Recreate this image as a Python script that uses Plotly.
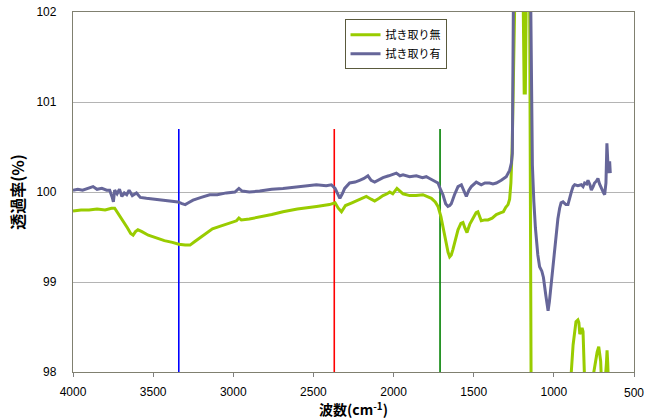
import plotly.graph_objects as go

# 拭き取り無 (without wiping)
wn_green = [4000, 3950, 3900, 3850, 3800, 3760, 3740, 3725, 3700, 3680, 3660, 3640, 3625, 3610, 3595,
            3570, 3530, 3480, 3430, 3380, 3340, 3300, 3270, 3240, 3210, 3170, 3130, 3080, 3030, 2980,
            2965, 2950, 2900, 2835, 2760, 2690, 2600, 2480, 2400, 2365, 2345, 2325, 2300, 2260, 2232,
            2200, 2170, 2140, 2118, 2090, 2066, 2040, 2024, 2005, 1990, 1979, 1960, 1941, 1900, 1860,
            1817, 1790, 1764, 1740, 1723, 1705, 1692, 1675, 1660, 1650, 1640, 1630, 1615, 1598, 1580,
            1567, 1555, 1542, 1525, 1505, 1485, 1474, 1462, 1453, 1430, 1411, 1385, 1359, 1330, 1315,
            1300, 1286, 1276, 1268, 1260, 1255, 1250, 1245, 1230, 1200, 1190, 1185, 1178, 1172, 1165,
            1155, 1138, 900, 895, 880, 862, 850, 844, 838, 832, 824, 818, 812, 808, 760, 752, 740, 730,
            720, 714, 708, 703, 680, 672, 668, 664, 660]
t_green = [99.79, 99.80, 99.80, 99.81, 99.80, 99.82, 99.82, 99.78, 99.72, 99.66, 99.60, 99.54, 99.52, 99.56, 99.58,
           99.56, 99.52, 99.49, 99.46, 99.44, 99.42, 99.41, 99.41, 99.45, 99.49, 99.54, 99.59, 99.62, 99.65, 99.68,
           99.71, 99.69, 99.70, 99.72, 99.75, 99.78, 99.81, 99.84, 99.86, 99.88, 99.82, 99.78, 99.85, 99.88, 99.90,
           99.92, 99.95, 99.92, 99.90, 99.93, 99.96, 99.98, 100.00, 99.98, 100.02, 100.04, 100.01, 99.98, 99.96, 99.96,
           99.97, 99.95, 99.93, 99.89, 99.84, 99.73, 99.62, 99.45, 99.33, 99.28, 99.30, 99.36, 99.48, 99.58, 99.65,
           99.66, 99.60, 99.55, 99.64, 99.71, 99.77, 99.78, 99.72, 99.68, 99.69, 99.69, 99.71, 99.75, 99.77, 99.78,
           99.83, 99.86, 99.92, 100.1, 100.5, 101.0, 101.8, 102.6, 103.5, 103.5, 101.8, 101.1, 101.1, 101.8, 103.5,
           104.0, 96.0, 96.0, 97.9, 98.3, 98.56, 98.58, 98.55, 98.42, 98.45, 98.49, 98.45, 98.1, 97.9, 97.9, 98.0, 98.15, 98.22,
           98.28, 98.22, 98.12, 97.9, 97.9, 98.1, 98.24, 98.1, 97.9]

# 拭き取り有 (with wiping)
wn_purple = [4000, 3970, 3940, 3900, 3875, 3850, 3820, 3790, 3771, 3755, 3748, 3740, 3725, 3710, 3695,
             3680, 3665, 3650, 3630, 3604, 3580, 3542, 3500, 3459, 3400, 3345, 3320, 3300, 3280, 3251,
             3200, 3147, 3100, 3043, 2990, 2965, 2945, 2900, 2835, 2760, 2690, 2600, 2482, 2420, 2388,
             2365, 2350, 2335, 2320, 2305, 2274, 2240, 2212, 2185, 2160, 2140, 2118, 2090, 2066, 2030,
             2000, 1983, 1960, 1941, 1900, 1858, 1820, 1796, 1775, 1754, 1723, 1705, 1692, 1675, 1661,
             1650, 1640, 1620, 1598, 1577, 1560, 1546, 1530, 1515, 1484, 1465, 1453, 1430, 1401, 1380,
             1359, 1328, 1297, 1276, 1265, 1259, 1255, 1251, 1245, 1155, 1145, 1140, 1134, 1125, 1115,
             1100, 1089, 1075, 1065, 1050, 1040, 1036, 1028, 1015, 1006, 995, 985, 975, 964, 955,
             943, 925, 912, 900, 891, 880, 870, 850, 829, 818, 808, 795, 787, 775, 766,
             755, 746, 735, 725, 715, 704, 690, 683, 675, 669, 665, 660, 655, 652, 648]
t_purple = [100.02, 100.03, 100.02, 100.04, 100.06, 100.03, 100.04, 100.02, 100.02, 99.94, 99.89, 100.02, 99.98, 100.03, 99.95,
            99.99, 99.97, 100.02, 99.96, 99.99, 99.94, 99.93, 99.92, 99.91, 99.90, 99.89, 99.87, 99.86, 99.88, 99.91,
            99.94, 99.97, 99.97, 99.99, 100.00, 100.04, 100.01, 100.00, 100.01, 100.03, 100.04, 100.06, 100.08, 100.07, 100.08,
            100.04, 99.98, 99.93, 99.98, 100.04, 100.10, 100.11, 100.13, 100.15, 100.18, 100.13, 100.11, 100.14, 100.16, 100.18,
            100.20, 100.21, 100.18, 100.19, 100.17, 100.18, 100.16, 100.17, 100.15, 100.13, 100.10, 100.02, 99.97, 99.87, 99.84,
            99.85, 99.87, 99.97, 100.06, 100.08, 100.00, 99.95, 100.02, 100.06, 100.11, 100.09, 100.08, 100.10, 100.10, 100.09,
            100.10, 100.13, 100.17, 100.24, 100.32, 100.43, 101.0, 102.0, 104.0, 104.0, 101.8, 101.0, 100.3, 99.9, 99.6,
            99.3, 99.17, 99.12, 99.05, 98.85, 98.72, 98.68, 98.78, 99.0, 99.17, 99.38, 99.55, 99.70, 99.82, 99.88,
            99.89, 99.86, 99.86, 99.95, 100.00, 100.06, 100.08, 100.07, 100.08, 100.06, 100.10, 100.09, 100.13, 100.08, 100.02,
            100.06, 100.10, 100.12, 100.15, 100.09, 100.04, 99.99, 99.97, 100.10, 100.54, 100.30, 100.21, 100.30, 100.34, 100.21]

# reference vertical markers
marker_wn = [3340, 2370, 1710]
marker_colors = ["#0000FF", "#FF0000", "#008000"]
marker_range = [98.0, 100.7]

x_ticks = [4000, 3500, 3000, 2500, 2000, 1500, 1000, 500]
x_labels = ["4000", "3500", "3000", "2500", "2000", "1500", "1000", ""]
end_label = "500"
y_ticks = [98, 99, 100, 101, 102]

FONT = "Arial, 'Liberation Sans', 'Noto Sans CJK JP', sans-serif"
JP = "'Noto Sans CJK JP', Arial, sans-serif"

fig = go.Figure()
for wn, col in zip(marker_wn, marker_colors):
    fig.add_trace(go.Scatter(x=[wn, wn], y=marker_range, mode="lines",
                             line=dict(color=col, width=1.6), showlegend=False, hoverinfo="skip"))

fig.add_trace(go.Scatter(x=wn_green, y=t_green, mode="lines", name="拭き取り無",
                         line=dict(color="#99CC00", width=3)))
fig.add_trace(go.Scatter(x=wn_purple, y=t_purple, mode="lines", name="拭き取り有",
                         line=dict(color="#666699", width=3)))

fig.update_layout(
    width=660, height=420,
    margin=dict(l=73, r=26, t=12, b=48),
    plot_bgcolor="white", paper_bgcolor="white",
    font=dict(family=FONT, size=12, color="black"),
    legend=dict(x=0.484, y=0.98, xanchor="left", yanchor="top",
                bordercolor="#5a5a3c", borderwidth=1, bgcolor="white",
                font=dict(family=JP, size=11, color="black"),
                tracegroupgap=0, itemwidth=30),
)
# the last x tick label sits exactly at the right end of the axis (paper x = 1)
fig.add_annotation(x=1.0, xref="paper", y=0, yref="paper", text=end_label, showarrow=False,
                   xanchor="center", yanchor="middle", yshift=-21,
                   font=dict(family=FONT, size=12, color="black"))

fig.update_xaxes(range=[4000, 500], tickvals=x_ticks, ticktext=x_labels, ticks="outside", ticklen=4,
                 tickcolor="#808080", showline=True, linecolor="#808070", linewidth=1.3,
                 mirror=True, showgrid=False, zeroline=False, ticklabelstandoff=4, automargin="bottom",
                 ticklabeloverflow="allow",
                 title=dict(text="<b>波数(cm<sup>-1</sup>)</b>", font=dict(family=JP, size=14), standoff=0))
fig.update_yaxes(range=[98, 102], tickvals=y_ticks, showline=True, linecolor="#808070", linewidth=1.3,
                 mirror=True, showgrid=True, gridcolor="#b4b4b4", gridwidth=1.3, zeroline=False,
                 ticks="", ticklabelstandoff=13, automargin="left", ticklabeloverflow="allow",
                 title=dict(text="<b>透過率(%)</b>", font=dict(family=JP, size=16), standoff=7))

# remove the default page margin so the figure sits at the window's top-left corner
fig.write_html("out.html", config={"displayModeBar": False},
               post_script="document.body.style.margin='0';")
